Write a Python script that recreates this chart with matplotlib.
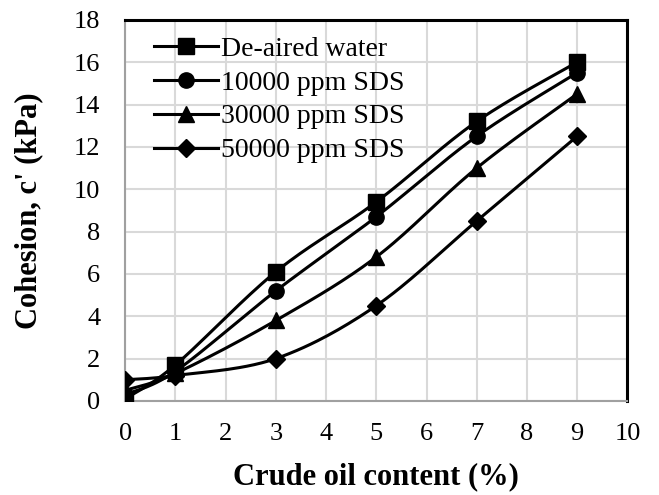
import matplotlib.pyplot as plt
import numpy as np

plt.rcParams['font.family'] = ['Liberation Serif', 'DejaVu Serif']

oil = [0, 1, 3, 5, 7, 9]
deaired = [0.1, 1.7, 6.1, 9.4, 13.2, 16.0]
sds_10000 = [0.3, 1.4, 5.2, 8.7, 12.5, 15.5]
sds_30000 = [0.5, 1.3, 3.8, 6.8, 11.0, 14.5]
sds_50000 = [1.0, 1.2, 2.0, 4.5, 8.5, 12.5]

labels = ['De-aired water', '10000 ppm SDS', '30000 ppm SDS', '50000 ppm SDS']
markers = ['s', 'o', '^', 'D']
msizes = [12, 11, 11, 9]


def smooth(x, y, n=30):
    # bezier through the points, excel-ish smoothing
    p = np.column_stack([x, y]).astype(float)
    ext = np.vstack([p[0], p, p[-1]])
    out = []
    t = np.linspace(0, 1, n)[:, None]
    for i in range(len(p) - 1):
        p0, p1, p2, p3 = ext[i], ext[i + 1], ext[i + 2], ext[i + 3]
        c1 = p1 + (p2 - p0) / 6
        c2 = p2 - (p3 - p1) / 6
        seg = ((1 - t) ** 3) * p1 + 3 * ((1 - t) ** 2) * t * c1 + 3 * (1 - t) * t ** 2 * c2 + t ** 3 * p2
        out.append(seg)
    s = np.vstack(out)
    return s[:, 0], s[:, 1]


fig = plt.figure(figsize=(6.59, 4.95), dpi=100)
ax = fig.add_axes([0.19, 0.19, 0.762, 0.77])

for ys, lab, m, ms in zip([deaired, sds_10000, sds_30000, sds_50000], labels, markers, msizes):
    sx, sy = smooth(oil, ys)
    ax.plot(sx, sy, color='black', lw=2.2, zorder=3)
    ax.plot(oil, ys, ls='none', marker=m, ms=ms, color='black', zorder=4)
    ax.plot([], [], color='black', lw=2.2, marker=m, ms=ms, label=lab)

ax.set_xlim(0, 10)
ax.set_ylim(0, 18)
ax.set_xticks(range(0, 11))
ax.set_yticks(range(0, 19, 2))
ax.grid(True, color='#d9d9d9', lw=1.5)
ax.set_axisbelow(True)
ax.tick_params(labelsize=19, length=0)
ax.tick_params(axis='y', pad=18)
ax.tick_params(axis='x', pad=16)

for side in ['top', 'right']:
    ax.spines[side].set_color('black')
    ax.spines[side].set_linewidth(2.2)
for side in ['left', 'bottom']:
    ax.spines[side].set_color('#a0a0a0')
    ax.spines[side].set_linewidth(1.5)

ax.set_xlabel('Crude oil content (%)', fontsize=22, fontweight='bold')
ax.set_ylabel("Cohesion, c' (kPa)", fontsize=22, fontweight='bold')
ax.xaxis.set_label_coords(0.5, -0.16)
ax.yaxis.set_label_coords(-0.163, 0.5)

ax.legend(loc='upper left', bbox_to_anchor=(0.025, 1.0), frameon=False, fontsize=20,
          handlelength=2.3, handletextpad=0.1, labelspacing=0.3, borderaxespad=0.2)

fig.savefig('out.png', dpi=100)
